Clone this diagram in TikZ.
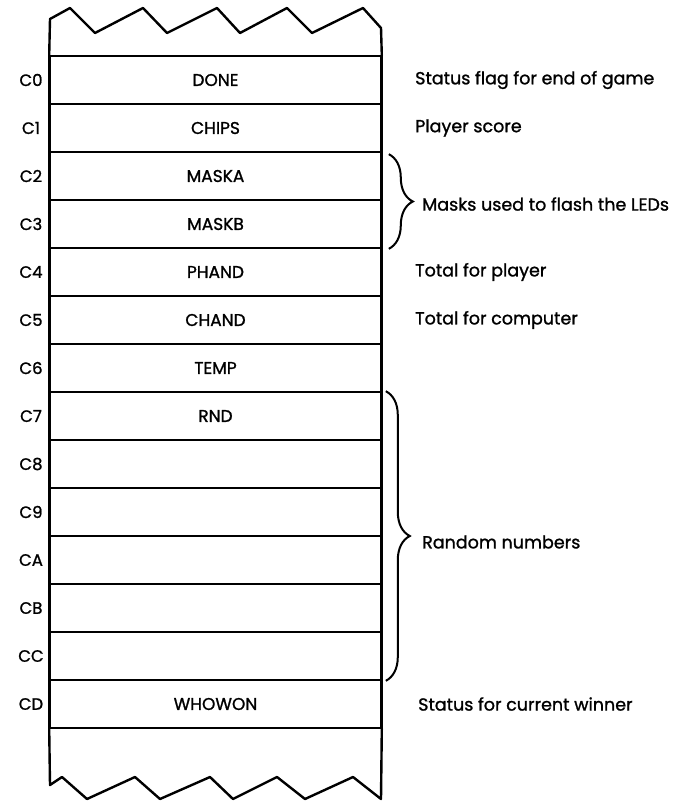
\documentclass[tikz,border=0pt]{standalone}
\usepackage{fontspec}
\setmainfont{Poppins}[FakeBold=1.2]
\usetikzlibrary{positioning,calc,decorations.pathreplacing}

\begin{document}
\begin{tikzpicture}[
    x=1pt, y=-1pt,
    cell/.style={rectangle, draw=black, line width=1.6pt, minimum width=331pt, minimum height=48pt, inner sep=0pt, font=\fontsize{17}{20}\selectfont},
    addr/.style={font=\fontsize{16.5}{20}\selectfont},
    note/.style={anchor=west, inner sep=0pt, font=\fontsize{17.5}{20}\selectfont},
    rim/.style={line width=2.4pt, line join=round},
    curly/.style={line width=2pt, decorate, decoration={brace, amplitude=24pt}}
]
\useasboundingbox (0,0) rectangle (678,802);

% Memory cells
\node[cell] (c0) at (215.5,80) {DONE};
\node[cell] (c1) at (215.5,128) {CHIPS};
\node[cell] (c2) at (215.5,176) {MASKA};
\node[cell] (c3) at (215.5,224) {MASKB};
\node[cell] (c4) at (215.5,272) {PHAND};
\node[cell] (c5) at (215.5,320) {CHAND};
\node[cell] (c6) at (215.5,368) {TEMP};
\node[cell] (c7) at (215.5,416) {RND};
\node[cell] (c8) at (215.5,464) {};
\node[cell] (c9) at (215.5,512) {};
\node[cell] (ca) at (215.5,560) {};
\node[cell] (cb) at (215.5,608) {};
\node[cell] (cc) at (215.5,656) {};
\node[cell] (cd) at (215.5,704) {WHOWON};

% Addresses
\node[addr] at (31,80) {C0};
\node[addr] at (31,128) {C1};
\node[addr] at (31,176) {C2};
\node[addr] at (31,224) {C3};
\node[addr] at (31,272) {C4};
\node[addr] at (31,320) {C5};
\node[addr] at (31,368) {C6};
\node[addr] at (31,416) {C7};
\node[addr] at (31,464) {C8};
\node[addr] at (31,512) {C9};
\node[addr] at (31,560) {CA};
\node[addr] at (31,608) {CB};
\node[addr] at (31,656) {CC};
\node[addr] at (31,704) {CD};

% Torn ends of the memory strip
\draw[rim] (c0.north west) -- (50,19) -- (70,8) -- (95,33) -- (143,8) -- (167,33) -- (217,8)
    -- (240,33) -- (287,8) -- (312,33) -- (363,8) -- (381,28) -- (c0.north east);
\draw[rim] (cd.south west) -- (50,785) -- (62,777) -- (87,799) -- (135,777) -- (160,799) -- (210,777)
    -- (233,799) -- (277,777) -- (305,799) -- (353,777) -- (381,799) -- (cd.south east);
\draw[rim] (c0.north west) -- (cd.south west);
\draw[rim] (c0.north east) -- (cd.south east);

% Braces
\draw[curly] ($(c2.north east)+(7,3)$) -- ($(c3.south east)+(7,0)$);
\draw[curly] ($(c7.north east)+(4,0)$) -- ($(cc.south east)+(4,0)$);

% Comments
\node[note] (ndone) at (415,80) {Status flag for end of game};
\node[note] (nchips) at (415,128) {Player score};
\node[note] (nmask) at (422,204) {Masks used to flash the LEDs};
\node[note] (nphand) at (415,272) {Total for player};
\node[note] (nchand) at (415,320) {Total for computer};
\node[note] (nrnd) at (422,542) {Random numbers};
\node[note] (nwho) at (418,704) {Status for current winner};

\end{tikzpicture}
\end{document}
